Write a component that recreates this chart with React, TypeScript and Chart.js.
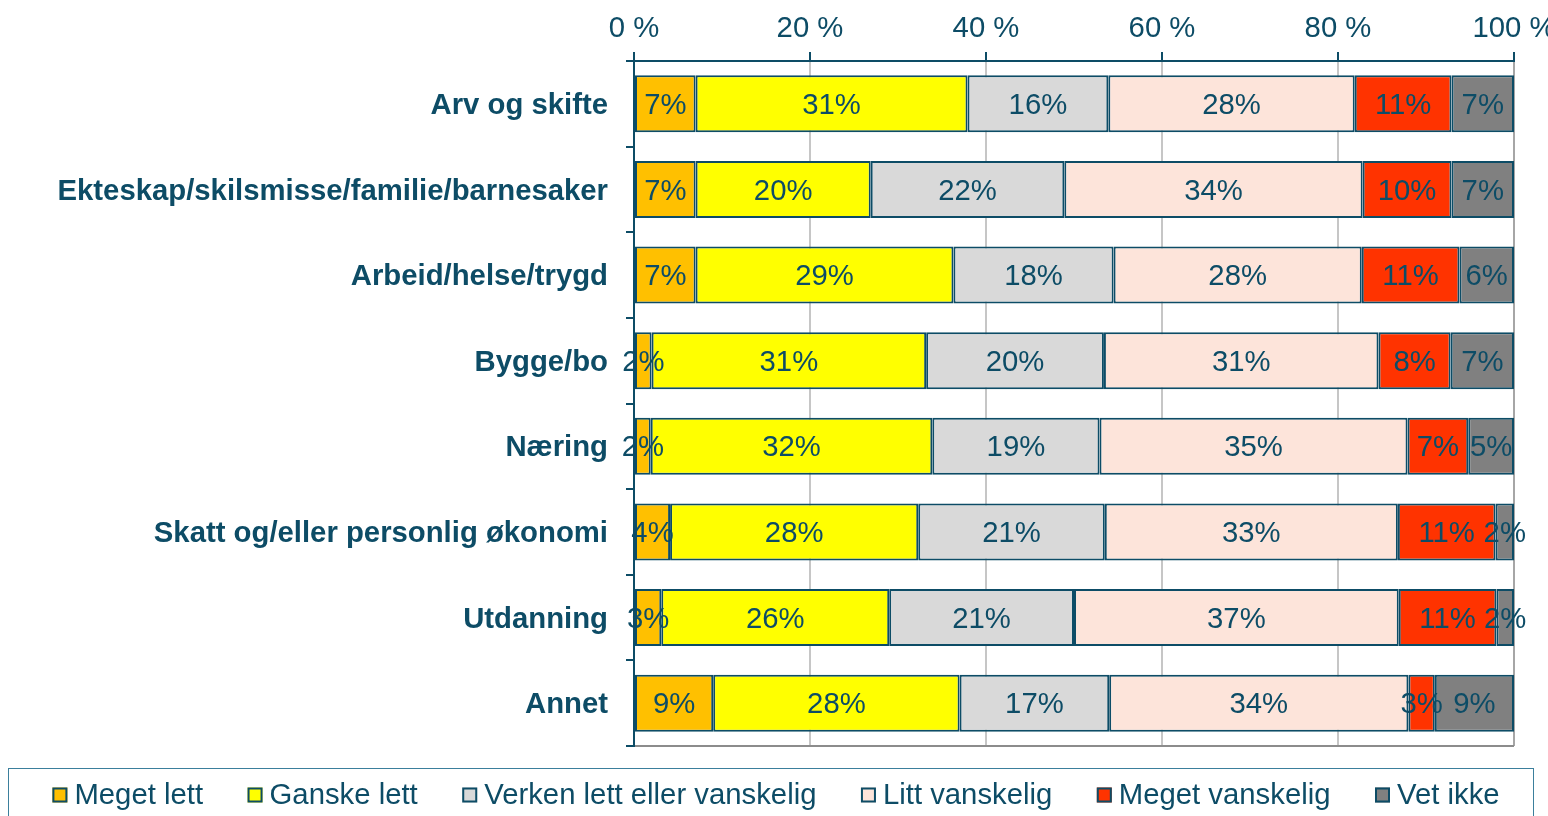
import React, { useEffect, useRef } from 'react';
import { Chart, registerables } from 'chart.js';

Chart.register(...registerables);

const categories = [
  'Arv og skifte',
  'Ekteskap/skilsmisse/familie/barnesaker',
  'Arbeid/helse/trygd',
  'Bygge/bo',
  'Næring',
  'Skatt og/eller personlig økonomi',
  'Utdanning',
  'Annet',
];
const seriesNames = [
  'Meget lett',
  'Ganske lett',
  'Verken lett eller vanskelig',
  'Litt vanskelig',
  'Meget vanskelig',
  'Vet ikke',
];
const megetLett = [7.0, 7.0, 7.0, 2.0, 1.9, 4.1, 3.1, 9.0];
const ganskeLett = [30.9, 19.9, 29.3, 31.2, 32.0, 28.2, 25.9, 28.0];
const verken = [16.0, 22.0, 18.2, 20.2, 19.0, 21.2, 21.0, 17.0];
const littVanskelig = [28.0, 33.9, 28.2, 31.2, 35.0, 33.3, 36.9, 34.0];
const megetVanskelig = [11.0, 10.1, 11.1, 8.2, 6.9, 11.1, 11.1, 3.0];
const vetIkke = [7.1, 7.1, 6.2, 7.2, 5.2, 2.1, 2.0, 9.0];
const xTicks = [0, 20, 40, 60, 80, 100];

const seriesValues = [megetLett, ganskeLett, verken, littVanskelig, megetVanskelig, vetIkke];
const seriesColors = ['#FFC000', '#FFFF00', '#D9D9D9', '#FDE4DA', '#FF3300', '#808080'];

const TEAL = '#0d4c66';
const FONT = "'Liberation Sans', Arial, Helvetica, sans-serif";
const FS = 29.3;

const dataLabelPlugin = {
  id: 'segLabels',
  afterDatasetsDraw(chart: any) {
    const ctx = chart.ctx;
    ctx.save();
    ctx.font = `${FS}px ${FONT}`;
    ctx.fillStyle = TEAL;
    ctx.textAlign = 'center';
    ctx.textBaseline = 'middle';
    chart.data.datasets.forEach((ds: any, di: number) => {
      const meta = chart.getDatasetMeta(di);
      meta.data.forEach((el: any, i: number) => {
        const v = ds.data[i];
        const cx = (el.x + el.base) / 2;
        ctx.fillText(`${Math.round(v)}%`, cx, el.y + 2);
      });
    });
    ctx.restore();
  },
};

const legendPlugin = {
  id: 'boxLegend',
  afterDraw(chart: any) {
    const ctx = chart.ctx;
    ctx.save();
    ctx.strokeStyle = '#3b7f9c';
    ctx.lineWidth = 1;
    ctx.strokeRect(8.5, 768.5, 1525, 80);
    ctx.font = `${FS}px ${FONT}`;
    const box = 15;
    const gap = 7;
    const spacing = 44.5;
    const items = chart.data.datasets.map((ds: any) => ({
      label: ds.label,
      color: ds.backgroundColor,
      w: box + gap + ctx.measureText(ds.label).width,
    }));
    const total = items.reduce((s: number, it: any) => s + it.w, 0) + spacing * (items.length - 1);
    let x = (8 + 1534) / 2 - total / 2 + 5;
    const cy = 795;
    items.forEach((it: any) => {
      ctx.fillStyle = it.color;
      ctx.fillRect(x, cy - box / 2, box, box);
      ctx.strokeStyle = TEAL;
      ctx.lineWidth = 2;
      ctx.strokeRect(x + 1, cy - box / 2 + 1, box - 2, box - 2);
      ctx.fillStyle = TEAL;
      ctx.textAlign = 'left';
      ctx.textBaseline = 'middle';
      ctx.fillText(it.label, x + box + gap, cy + 1);
      x += it.w + spacing;
    });
    ctx.restore();
  },
};

export default function App() {
  const ref = useRef<HTMLCanvasElement | null>(null);

  useEffect(() => {
    if (!ref.current) return;
    Chart.defaults.font.family = FONT;
    const chart = new Chart(ref.current, {
      type: 'bar',
      data: {
        labels: categories,
        datasets: seriesNames.map((name, i) => ({
          label: name,
          data: seriesValues[i],
          backgroundColor: seriesColors[i],
          borderColor: TEAL,
          borderWidth: 2,
          borderSkipped: false,
          barPercentage: 0.667,
          categoryPercentage: 1,
        })),
      },
      options: {
        indexAxis: 'y',
        responsive: false,
        animation: false,
        layout: { padding: { left: 0, right: 34, top: 0, bottom: 70 } },
        plugins: {
          legend: { display: false },
          tooltip: { enabled: false },
        },
        scales: {
          x: {
            position: 'top',
            stacked: true,
            min: 0,
            max: 100,
            afterBuildTicks: (scale: any) => {
              scale.ticks = xTicks.map((v) => ({ value: v }));
            },
            afterFit: (scale: any) => {
              scale.height = 61;
              scale.paddingLeft = 0;
              scale.paddingRight = 0;
            },
            ticks: {
              color: TEAL,
              font: { size: FS, family: FONT },
              padding: 6,
              maxRotation: 0,
              autoSkip: false,
              callback: (v: any) => `${v} %`,
            },
            grid: {
              color: (c: any) =>
                c.tick && c.tick.value === 0
                  ? 'rgba(0,0,0,0)'
                  : c.tick && c.tick.value === 100
                  ? '#a6a6a6'
                  : '#c6c6c6',
              lineWidth: 2,
              tickColor: TEAL,
              tickLength: 9,
            },
            border: { color: TEAL, width: 2 },
          },
          y: {
            stacked: true,
            afterFit: (scale: any) => {
              scale.width = 634;
            },
            ticks: {
              color: TEAL,
              font: { size: FS, weight: 'bold', family: FONT },
              padding: 18,
              labelOffset: 2,
              autoSkip: false,
            },
            grid: {
              offset: true,
              drawOnChartArea: true,
              color: (c: any) => (c.tick ? 'rgba(0,0,0,0)' : '#8c8c8c'),
              lineWidth: 2,
              tickColor: TEAL,
              tickLength: 8,
            },
            border: { color: TEAL, width: 2 },
          },
        },
      },
      plugins: [dataLabelPlugin, legendPlugin],
    } as any);
    return () => chart.destroy();
  }, []);

  return (
    <div style={{ position: 'fixed', left: 0, top: 0, width: 1548, height: 816, background: '#fff' }}>
      <canvas ref={ref} width={1548} height={816} style={{ display: 'block' }} />
    </div>
  );
}
